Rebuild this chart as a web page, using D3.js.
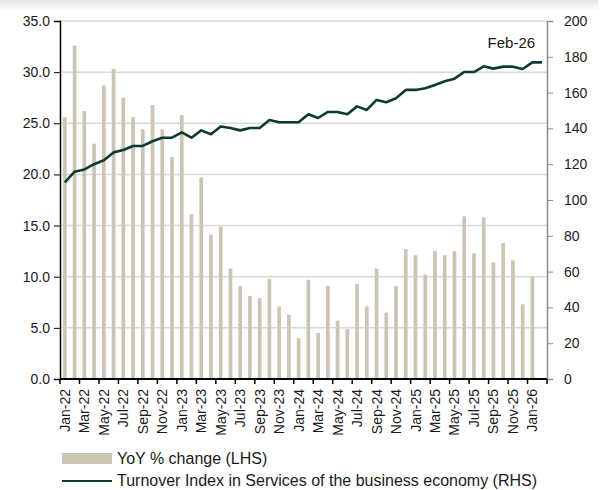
<!DOCTYPE html>
<html lang="en">
<head>
  <meta charset="UTF-8">
  <title>Turnover Index - Services of the business economy</title>
  <script src="https://d3js.org/d3.v7.min.js"></script>
  <style>
    body { margin: 0; padding: 0; background: #fff; }
    svg { display: block; font-family: "Liberation Sans", Arial, sans-serif; }
    .grid line { stroke: #d9d9d9; stroke-width: 1.5px; }
    .tick text { fill: #1a1a1a; }
  </style>
</head>
<body>
  <svg id="chart"></svg>

  <script>
    const months = [
      'Jan-22','Feb-22','Mar-22','Apr-22','May-22','Jun-22','Jul-22','Aug-22','Sep-22','Oct-22','Nov-22','Dec-22',
      'Jan-23','Feb-23','Mar-23','Apr-23','May-23','Jun-23','Jul-23','Aug-23','Sep-23','Oct-23','Nov-23','Dec-23',
      'Jan-24','Feb-24','Mar-24','Apr-24','May-24','Jun-24','Jul-24','Aug-24','Sep-24','Oct-24','Nov-24','Dec-24',
      'Jan-25','Feb-25','Mar-25','Apr-25','May-25','Jun-25','Jul-25','Aug-25','Sep-25','Oct-25','Nov-25','Dec-25',
      'Jan-26','Feb-26'
    ];

    // YoY % change (LHS)
    const yoy = [
      25.6, 32.6, 26.2, 23.0, 28.7, 30.3, 27.5, 25.6, 24.4, 26.8, 24.4, 21.7,
      25.8, 16.1, 19.7, 14.1, 14.9, 10.8, 9.1, 8.1, 7.9, 9.8, 7.1, 6.3,
      4.0, 9.7, 4.5, 9.1, 5.7, 4.9, 9.3, 7.1, 10.8, 6.5, 9.1, 12.7,
      12.1, 10.2, 12.5, 12.1, 12.5, 15.9, 12.3, 15.8, 11.4, 13.3, 11.6, 7.3,
      10.0, null
    ];

    // Turnover index (RHS)
    const turnover = [
      109.9, 115.8, 117.1, 120.0, 122.2, 126.6, 127.9, 130.2, 130.2, 132.8, 134.8, 134.8,
      137.8, 134.8, 138.9, 136.7, 141.1, 140.2, 138.9, 140.2, 140.2, 144.7, 143.4, 143.4,
      143.4, 147.9, 145.8, 149.2, 149.2, 147.9, 152.3, 150.3, 155.9, 154.6, 156.8, 161.5,
      161.5, 162.4, 164.2, 166.3, 167.8, 171.5, 171.5, 174.7, 173.4, 174.5, 174.5, 173.2,
      176.9, 176.9
    ];

    const leftTicks = [0, 5, 10, 15, 20, 25, 30, 35];
    const rightTicks = [0, 20, 40, 60, 80, 100, 120, 140, 160, 180, 200];
    const barColor = '#cdc5b3';
    const lineColor = '#0c3b34';

    const width = 604, height = 490;
    const margin = { top: 21, right: 57, bottom: 111, left: 60 };
    const innerW = width - margin.left - margin.right;
    const innerH = height - margin.top - margin.bottom;

    const svg = d3.select('#chart').attr('width', width).attr('height', height);

    // faint shadow along the top edge
    const defs = svg.append('defs');
    const grad = defs.append('linearGradient').attr('id', 'topShade')
      .attr('x1', 0).attr('y1', 0).attr('x2', 0).attr('y2', 1);
    grad.append('stop').attr('offset', '0%').attr('stop-color', '#e4e4e4');
    grad.append('stop').attr('offset', '100%').attr('stop-color', '#ffffff');
    svg.append('rect').attr('x', 0).attr('y', 0).attr('width', 598).attr('height', 11)
      .attr('fill', 'url(#topShade)');

    const g = svg.append('g').attr('transform', `translate(${margin.left},${margin.top})`);

    const x = d3.scaleBand().domain(months).range([0, innerW]).paddingInner(0.62).paddingOuter(0.31);
    const yL = d3.scaleLinear().domain([0, 35]).range([innerH, 0]);
    const yR = d3.scaleLinear().domain([0, 200]).range([innerH, 0]);
    const step = x.step();
    const cx = m => x(m) + x.bandwidth() / 2;

    // gridlines (LHS)
    g.append('g').attr('class', 'grid')
      .selectAll('line').data(leftTicks.filter(t => t > 0)).join('line')
      .attr('x1', 0).attr('x2', innerW)
      .attr('y1', d => yL(d)).attr('y2', d => yL(d));

    // bars
    g.append('g').selectAll('rect')
      .data(months.map((m, i) => ({ m, v: yoy[i] })).filter(d => d.v != null))
      .join('rect')
      .attr('x', d => x(d.m))
      .attr('width', x.bandwidth())
      .attr('y', d => yL(d.v))
      .attr('height', d => yL(0) - yL(d.v))
      .attr('fill', barColor);

    // line
    const line = d3.line().x((d, i) => cx(months[i])).y(d => yR(d));
    g.append('path').datum(turnover)
      .attr('d', line)
      .attr('fill', 'none')
      .attr('stroke', lineColor)
      .attr('stroke-width', 2.6)
      .attr('stroke-linejoin', 'round');

    // last point label
    g.append('text')
      .attr('x', cx(months[months.length - 1]) - 7)
      .attr('y', yR(turnover[turnover.length - 1]) - 14)
      .attr('text-anchor', 'end')
      .attr('font-size', 15)
      .attr('fill', '#1a1a1a')
      .text('Feb-26');

    // left axis
    const axL = g.append('g')
      .call(d3.axisLeft(yL).tickValues(leftTicks).tickFormat(d3.format('.1f')).tickSize(6).tickPadding(4));
    axL.select('.domain').attr('stroke', '#000').attr('stroke-width', 1.5);
    axL.selectAll('.tick line').attr('stroke', '#000');
    axL.selectAll('.tick text').attr('font-size', 14);

    // right axis
    const axR = g.append('g').attr('transform', `translate(${innerW},0)`)
      .call(d3.axisRight(yR).tickValues(rightTicks).tickSize(6).tickPadding(11));
    axR.select('.domain').attr('stroke', '#8c8c8c').attr('stroke-width', 1.5);
    axR.selectAll('.tick line').attr('stroke', '#8c8c8c');
    axR.selectAll('.tick text').attr('font-size', 14);

    // bottom axis: ticks on every other band boundary, labels on band centres
    const axB = g.append('g').attr('transform', `translate(0,${innerH})`);
    axB.append('line').attr('x1', 0).attr('x2', innerW).attr('stroke', '#000').attr('stroke-width', 2);
    const tickIdx = d3.range(0, months.length + 1, 2);
    axB.selectAll('.btick').data(tickIdx).join('line')
      .attr('class', 'btick')
      .attr('x1', i => i * step).attr('x2', i => i * step)
      .attr('y1', 0).attr('y2', 5)
      .attr('stroke', '#000').attr('stroke-width', 1.5);
    axB.selectAll('.blabel').data(months.filter((m, i) => i % 2 === 0)).join('text')
      .attr('class', 'blabel')
      .attr('transform', m => `translate(${cx(m) + 5},10) rotate(-90)`)
      .attr('text-anchor', 'end')
      .attr('font-size', 14)
      .attr('fill', '#1a1a1a')
      .text(m => m);

    // legend
    const lg = svg.append('g').attr('transform', 'translate(62,0)');
    lg.append('rect').attr('x', 0).attr('y', 453).attr('width', 50).attr('height', 11).attr('fill', barColor);
    lg.append('text').attr('x', 55).attr('y', 464).attr('font-size', 16).attr('fill', '#1a1a1a')
      .text('YoY % change (LHS)');
    lg.append('line').attr('x1', 0).attr('x2', 50).attr('y1', 481).attr('y2', 481)
      .attr('stroke', lineColor).attr('stroke-width', 2);
    lg.append('text').attr('x', 55).attr('y', 486).attr('font-size', 16).attr('fill', '#1a1a1a')
      .text('Turnover Index in Services of the business economy (RHS)');
  </script>
</body>
</html>
